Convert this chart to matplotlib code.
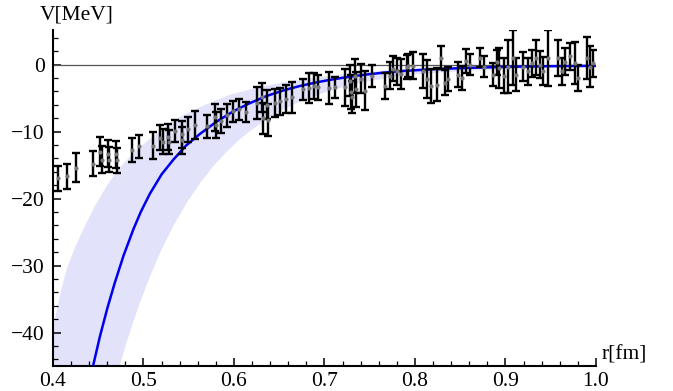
import matplotlib
matplotlib.use("Agg")
import matplotlib.pyplot as plt
from matplotlib.ticker import MultipleLocator, FixedLocator, FixedFormatter

# ---- data ----
r_data = [0.405, 0.415, 0.425, 0.444, 0.452, 0.454, 0.461, 0.462, 0.470, 0.471,
          0.487, 0.495, 0.511, 0.518, 0.522, 0.527, 0.528, 0.535, 0.542, 0.543,
          0.549, 0.557, 0.570, 0.579, 0.580, 0.586, 0.592, 0.599, 0.606, 0.613,
          0.625, 0.631, 0.632, 0.637, 0.638, 0.645, 0.651, 0.657, 0.664, 0.676,
          0.683, 0.688, 0.693, 0.705, 0.712, 0.723, 0.728, 0.729, 0.730, 0.734,
          0.735, 0.740, 0.745, 0.752, 0.767, 0.772, 0.776, 0.780, 0.785, 0.791,
          0.792, 0.798, 0.809, 0.813, 0.818, 0.824, 0.829, 0.833, 0.836, 0.847,
          0.852, 0.856, 0.861, 0.872, 0.876, 0.886, 0.891, 0.893, 0.898, 0.903,
          0.908, 0.912, 0.919, 0.925, 0.929, 0.934, 0.938, 0.941, 0.947, 0.958,
          0.962, 0.966, 0.971, 0.977, 0.980, 0.990, 0.993, 0.997]
v_data = [-17.0, -16.7, -15.4, -14.8, -13.0, -14.2, -13.3, -14.2, -13.4, -14.3,
          -12.8, -12.2, -12.1, -10.9, -11.5, -10.8, -11.6, -9.9, -10.4, -11.3,
          -9.7, -9.0, -9.2, -7.9, -9.0, -8.4, -7.6, -7.0, -6.7, -7.1,
          -5.7, -4.9, -8.0, -6.0, -8.3, -5.7, -5.5, -5.2, -4.9, -3.7,
          -3.5, -3.2, -3.4, -3.5, -3.4, -3.4, -2.4, -4.1, -4.9, -1.7,
          -3.7, -2.1, -3.9, -1.7, -3.2, -1.7, -0.6, -1.0, -1.4, -0.4,
          -0.2, -0.2, -1.0, -2.2, -3.2, -3.0, 1.0, -2.7, -2.2, -1.5,
          -2.0, 0.5, 0.0, 1.0, -0.3, -1.5, 0.3, -0.5, -1.7, -0.3,
          1.0, -1.5, -0.3, -1.0, 0.2, 1.0, 0.0, -1.0, 1.0, 1.0,
          -1.0, 0.4, 1.2, 0.2, -2.0, 1.0, -0.3, 0.2]
e_data = [1.9, 1.9, 2.2, 1.9, 2.2, 2.0, 2.0, 1.9, 2.0, 1.9,
          1.8, 1.7, 2.0, 1.9, 1.9, 1.9, 1.8, 1.6, 2.0, 2.0,
          1.9, 2.1, 1.7, 2.0, 1.9, 1.8, 1.7, 1.6, 1.6, 1.5,
          2.4, 2.2, 2.3, 2.2, 2.4, 2.1, 2.0, 2.1, 2.3, 1.6,
          2.2, 2.0, 1.9, 2.4, 1.6, 2.8, 2.3, 2.5, 2.4, 2.5,
          2.6, 2.2, 2.9, 1.6, 1.9, 2.0, 1.8, 2.0, 2.2, 1.8,
          1.7, 2.0, 2.5, 2.8, 2.6, 2.5, 1.7, 1.9, 1.8, 1.8,
          1.8, 1.8, 1.5, 1.4, 1.5, 1.7, 1.8, 3.0, 2.6, 3.9,
          4.1, 2.4, 2.2, 2.0, 2.0, 2.6, 2.0, 2.1, 4.2, 2.7,
          2.0, 2.0, 2.0, 3.1, 2.0, 3.1, 3.1, 2.0]

r_fit = [0.4446, 0.452, 0.460, 0.468, 0.478, 0.4888, 0.497, 0.507, 0.520, 0.533,
         0.547, 0.562, 0.580, 0.599, 0.617, 0.636, 0.655, 0.673, 0.692, 0.710,
         0.728, 0.746, 0.765, 0.783, 0.82, 0.86, 0.90, 0.95, 1.0]
v_fit = [-44.8, -40.5, -36.4, -32.7, -28.5, -24.6, -22.0, -19.3, -16.4, -14.2,
         -12.1, -10.4, -8.6, -7.0, -5.8, -4.7, -3.85, -3.2, -2.64, -2.2,
         -1.82, -1.5, -1.22, -1.0, -0.7, -0.5, -0.35, -0.25, -0.2]

r_band_hi = [0.39, 0.395, 0.402, 0.408, 0.415, 0.424, 0.4335, 0.446, 0.459, 0.473,
             0.4888, 0.507, 0.5256, 0.543, 0.562, 0.579, 0.596, 0.613, 0.63, 0.648,
             0.665, 0.683, 0.70, 0.725, 0.75, 0.775, 0.80, 0.85, 0.90, 0.95, 1.0]
v_band_hi = [-46.0, -42.6, -38.1, -34.2, -30.6, -27.4, -24.6, -21.2, -18.2, -15.5,
             -13.2, -11.1, -9.2, -7.6, -6.4, -5.4, -4.5, -3.9, -3.3, -2.85,
             -2.45, -2.1, -1.8, -1.4, -1.1, -0.8, -0.6, -0.35, -0.2, -0.1, 0.0]
r_band_lo = [0.471, 0.474, 0.481, 0.489, 0.497, 0.507, 0.519, 0.533, 0.547, 0.562,
             0.577, 0.592, 0.606, 0.62, 0.635, 0.65, 0.665, 0.68, 0.695, 0.71,
             0.73, 0.75, 0.775, 0.80, 0.85, 0.90, 0.95, 1.0]
v_band_lo = [-46.0, -44.8, -41.6, -38.3, -35.2, -31.7, -27.9, -24.1, -20.8, -17.8,
             -15.2, -13.0, -11.2, -9.7, -8.3, -7.1, -6.0, -5.15, -4.4, -3.76,
             -3.05, -2.47, -1.9, -1.46, -1.0, -0.7, -0.5, -0.4]

x_ticks = [0.4, 0.5, 0.6, 0.7, 0.8, 0.9, 1.0]
x_labels = ["0.4", "0.5", "0.6", "0.7", "0.8", "0.9", "1.0"]
y_ticks = [0, -10, -20, -30, -40]
y_labels = ["0", "\u221210", "\u221220", "\u221230", "\u221240"]

plt.rcParams['font.family'] = ['Liberation Serif', 'DejaVu Serif']

fig = plt.figure(figsize=(6.73, 3.91), dpi=100)
ax = fig.add_axes([53 / 673, 25 / 391, 543 / 673, 336 / 391])
ax.set_xlim(0.4, 1.0)
ax.set_ylim(-45, 5.15)

# band
poly_r = r_band_hi + r_band_lo[::-1]
poly_v = v_band_hi + v_band_lo[::-1]
ax.fill(poly_r, poly_v, color='#e2e2fb', lw=0, zorder=1)

ax.axhline(0, color='#555555', lw=0.9, zorder=2)

ax.plot(r_fit, v_fit, color='#0000ee', lw=1.8, zorder=3, solid_joinstyle='round')

ax.errorbar(r_data, v_data, yerr=e_data, fmt='o', ms=2.0, mfc='#777777', mec='#777777',
            ecolor='black', elinewidth=1.7, capsize=3, capthick=1.7, zorder=4)

for s in ['top', 'right']:
    ax.spines[s].set_visible(False)
for s in ['left', 'bottom']:
    ax.spines[s].set_linewidth(1.5)
    ax.spines[s].set_color('black')

ax.xaxis.set_major_locator(FixedLocator(x_ticks))
ax.xaxis.set_major_formatter(FixedFormatter(x_labels))
ax.yaxis.set_major_locator(FixedLocator(y_ticks))
ax.yaxis.set_major_formatter(FixedFormatter(y_labels))
ax.xaxis.set_minor_locator(MultipleLocator(0.02))
ax.yaxis.set_minor_locator(MultipleLocator(2))
ax.tick_params(which='major', direction='in', length=6, width=1.1, labelsize=15.5)
ax.tick_params(axis='x', which='major', pad=4)
ax.tick_params(axis='y', which='major', pad=6)
ax.tick_params(which='minor', direction='in', length=3.5, width=0.9)

fig.text(77 / 673, 1 - 15 / 391, "V[MeV]", ha='center', va='center', fontsize=15.5)
fig.text(602 / 673, 1 - 355 / 391, "r[fm]", ha='left', va='center', fontsize=15.5)

fig.savefig("out.png", dpi=100)
